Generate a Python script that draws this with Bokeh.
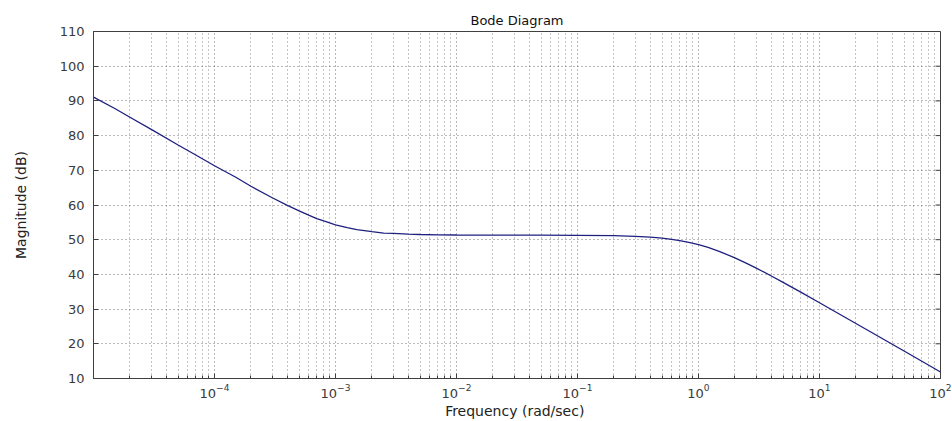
from bokeh.plotting import figure
from bokeh.models import FixedTicker, LogTickFormatter, Range1d
from bokeh.embed import file_html
from bokeh.resources import INLINE

# Magnitude response samples (rad/sec, dB)
freq = [1e-5, 1.5e-5, 2e-5, 3e-5, 5e-5, 7e-5, 1e-4, 1.5e-4, 2e-4, 3e-4,
        4e-4, 5e-4, 6e-4, 7e-4, 8e-4, 1e-3, 1.25e-3, 1.5e-3, 2e-3, 2.5e-3,
        3e-3, 4e-3, 5e-3, 7e-3, 1e-2, 2e-2, 5e-2, 1e-1, 2e-1, 3e-1,
        4e-1, 5e-1, 6e-1, 7e-1, 8.5e-1, 1.0, 1.2, 1.5, 2.0, 2.5,
        3.0, 4.0, 5.0, 7.0, 1e1, 2e1, 5e1, 1e2]
mag_db = [91.1, 87.8, 85.3, 81.8, 77.3, 74.4, 71.3, 68.0, 65.4, 62.1,
          59.9, 58.3, 57.1, 56.1, 55.4, 54.3, 53.5, 52.9, 52.3, 51.9,
          51.8, 51.6, 51.5, 51.4, 51.35, 51.3, 51.3, 51.26, 51.15, 50.97,
          50.73, 50.44, 50.11, 49.75, 49.18, 48.57, 47.76, 46.58, 44.77, 43.2,
          41.83, 39.55, 37.71, 34.89, 31.84, 25.86, 17.91, 11.89]

x_major = [1e-4, 1e-3, 1e-2, 1e-1, 1e0, 1e1, 1e2]
x_minor = [m * 10.0 ** e for e in range(-5, 2) for m in range(2, 10)]
y_major = [10, 20, 30, 40, 50, 60, 70, 80, 90, 100, 110]

X_LO, X_HI = 1e-5, 1e2
FONT = "DejaVu Sans"
TXT = "#3a3a3a"
AX = "#404040"

p = figure(width=952, height=421, x_axis_type="log",
           x_range=Range1d(X_LO, X_HI), y_range=Range1d(10, 110),
           output_backend="svg", toolbar_location=None,
           title="Bode Diagram",
           min_border_left=93, min_border_right=12,
           min_border_top=31, min_border_bottom=10)

p.title.align = "center"
p.title.text_font = FONT
p.title.text_font_size = "13px"
p.title.text_font_style = "normal"
p.title.text_color = "#111111"
p.title.standoff = 8

p.outline_line_color = AX
p.outline_line_width = 1
p.background_fill_color = "white"
p.border_fill_color = "white"

# x axis: decades labelled as powers of ten
xa = p.xaxis[0]
xa.ticker = FixedTicker(ticks=x_major, minor_ticks=x_minor)
xa.formatter = LogTickFormatter()
xa.axis_label = "Frequency  (rad/sec)"

# y axis
ya = p.yaxis[0]
ya.ticker = FixedTicker(ticks=y_major)
ya.axis_label = "Magnitude (dB)"

for ax in (xa, ya):
    ax.axis_line_color = AX
    ax.major_tick_in = 5
    ax.major_tick_out = 0
    ax.minor_tick_in = 3
    ax.minor_tick_out = 0
    ax.major_tick_line_color = AX
    ax.minor_tick_line_color = AX
    ax.major_label_text_font = FONT
    ax.major_label_text_font_size = "13px"
    ax.major_label_text_color = TXT
    ax.axis_label_text_font = FONT
    ax.axis_label_text_font_size = "14px"
    ax.axis_label_text_font_style = "normal"
    ax.axis_label_text_color = "#222222"

xa.major_label_standoff = 5
xa.axis_label_standoff = 2
ya.major_label_standoff = 9
ya.axis_label_standoff = 28
ya.minor_tick_line_color = None

# dotted grid
p.xgrid.ticker = FixedTicker(ticks=x_major, minor_ticks=x_minor)
p.xgrid.grid_line_color = "#707070"
p.xgrid.grid_line_dash = "1 3"
p.xgrid.minor_grid_line_color = "#8a8a8a"
p.xgrid.minor_grid_line_dash = "1 3"
p.ygrid.ticker = FixedTicker(ticks=y_major)
p.ygrid.grid_line_color = "#707070"
p.ygrid.grid_line_dash = "1 3"

# inward tick marks along the right edge of the frame
p.scatter([X_HI] * len(y_major), y_major, marker="dash", size=10,
          line_color=AX, line_width=1)

p.line(freq, mag_db, line_color="#1f1f80", line_width=1.3)

open("out.html", "w").write(file_html(p, INLINE))
